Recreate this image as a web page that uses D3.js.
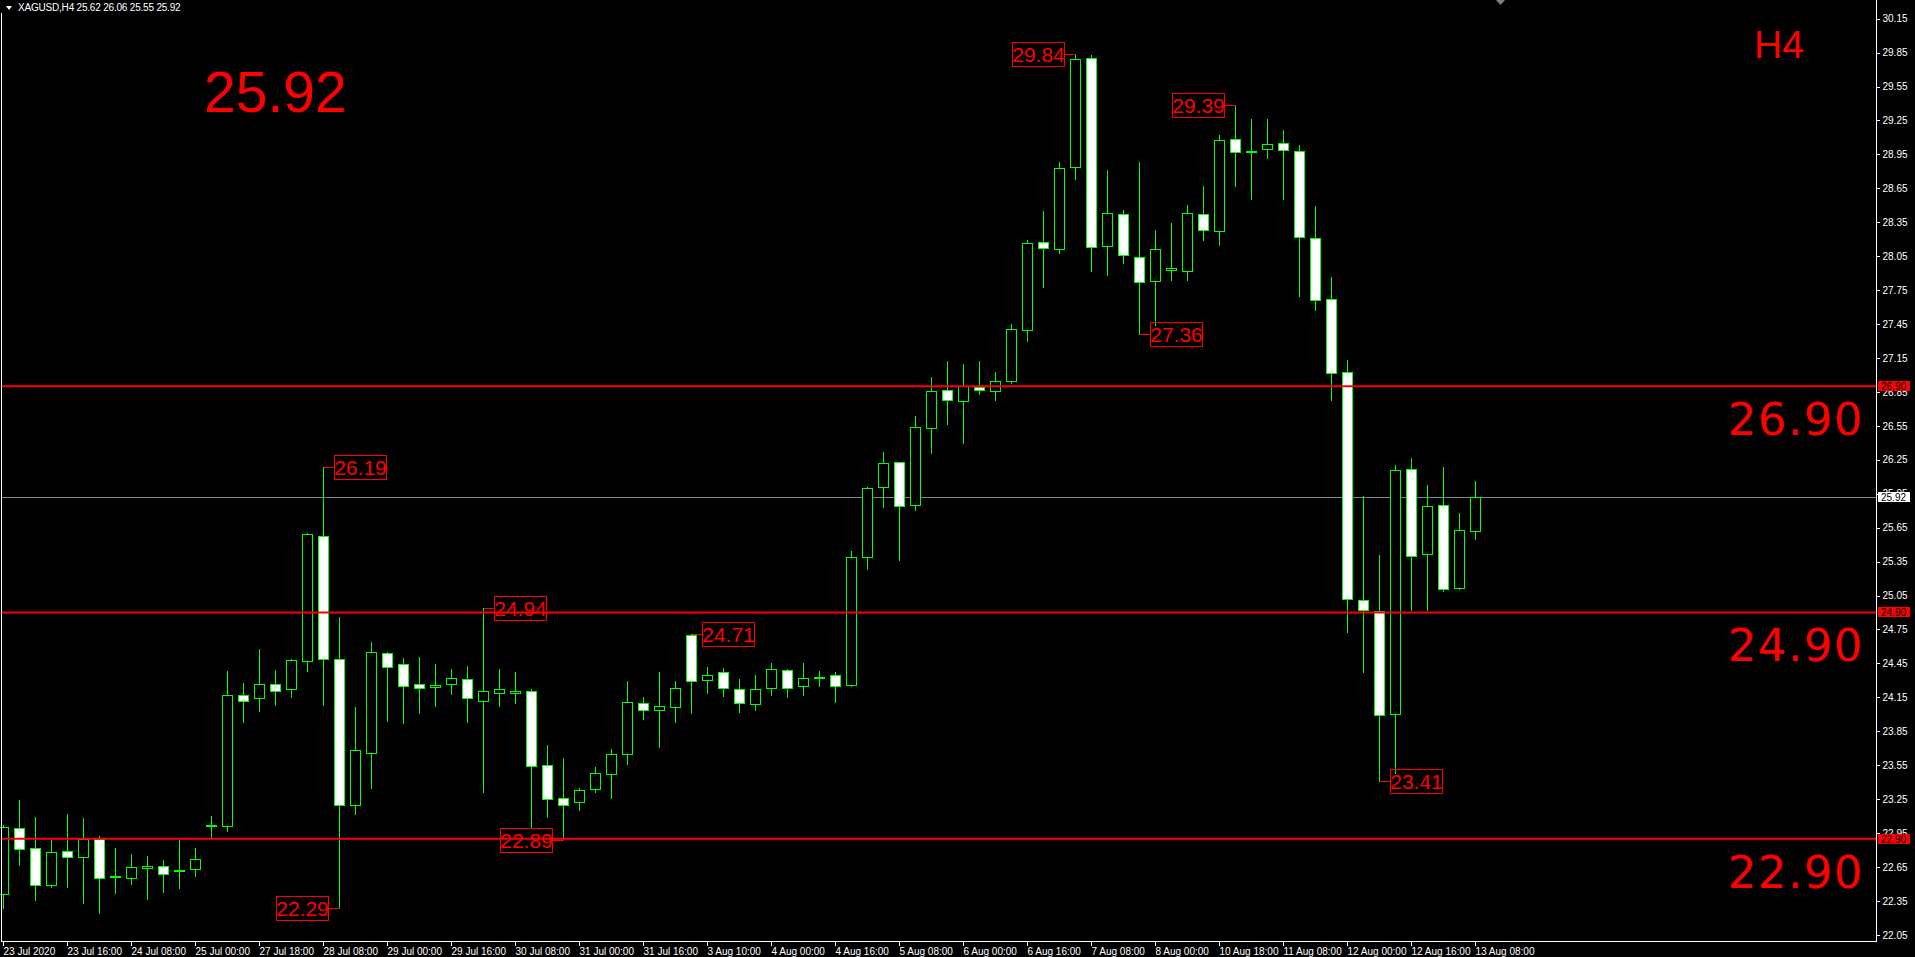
<!DOCTYPE html>
<html><head><meta charset="utf-8">
<script src="https://cdn.jsdelivr.net/npm/d3@7"></script>
<style>
html,body{margin:0;padding:0;background:#000;overflow:hidden}
svg{display:block}
</style></head><body>
<svg id="chart" width="1915" height="957"></svg>
<script>
// ---------------- DATA ----------------
const symbolName = "XAGUSD,H4";
const timeframe = "H4";
const opens  = [22.41,22.99,22.82,22.49,22.79,22.74,22.90,22.56,22.55,22.64,22.66,22.62,22.63,23.01,23.01,24.17,24.14,24.27,24.22,24.47,
                25.58,24.49,23.20,23.66,24.54,24.44,24.27,24.24,24.27,24.31,24.12,24.19,24.19,24.21,23.55,23.26,23.22,23.34,23.47,23.65,
                24.10,24.04,24.06,24.70,24.30,24.37,24.22,24.09,24.23,24.39,24.25,24.33,24.35,24.26,25.39,26.01,26.23,25.85,26.53,26.87,
                26.77,26.89,26.86,26.95,27.40,28.18,28.11,28.84,29.80,28.14,28.42,28.04,27.83,27.93,27.92,28.42,28.27,29.09,28.97,29.00,
                29.05,28.98,28.21,27.67,27.03,25.01,24.91,24.00,26.17,25.42,25.85,25.12,25.62];
const highs  = [23.02,23.24,23.09,22.89,23.12,23.08,22.92,22.82,22.76,22.75,22.71,22.89,22.82,23.10,24.38,24.28,24.58,24.39,24.49,25.60,
                26.19,24.86,24.06,24.64,24.55,24.50,24.51,24.44,24.40,24.43,24.94,24.40,24.37,24.22,23.73,23.61,23.35,23.53,23.69,24.29,
                24.15,24.37,24.29,24.71,24.42,24.41,24.31,24.35,24.45,24.40,24.45,24.38,24.37,25.44,26.01,26.32,26.23,26.64,26.98,27.12,
                27.10,27.12,27.03,27.45,28.19,28.45,28.88,29.84,29.83,28.81,28.46,28.88,28.28,28.34,28.50,28.67,29.12,29.39,29.26,29.26,
                29.17,29.03,28.49,27.87,27.13,25.93,25.41,26.20,26.27,26.03,26.19,25.78,26.06];
const lows   = [22.29,22.67,22.36,22.47,22.47,22.33,22.24,22.42,22.50,22.37,22.43,22.46,22.57,22.90,22.97,23.93,24.03,24.08,24.15,24.38,
                24.08,22.29,23.12,23.35,23.94,23.92,24.01,24.07,24.18,23.93,23.31,24.07,24.10,23.00,23.09,22.89,23.15,23.31,23.26,23.56,
                23.96,23.71,23.93,24.01,24.19,24.16,24.02,24.04,24.17,24.15,24.17,24.25,24.11,24.25,25.28,25.83,25.36,25.81,26.31,26.57,
                26.40,26.83,26.78,26.93,27.30,27.78,28.08,28.73,27.92,27.88,27.99,27.36,27.44,27.84,27.84,28.19,28.15,28.67,28.56,28.92,
                28.56,27.70,27.57,26.78,24.73,24.37,23.41,23.48,24.92,24.92,25.09,25.11,25.55];
const closes = [23.00,22.81,22.49,22.78,22.74,22.90,22.55,22.57,22.65,22.66,22.59,22.61,22.72,23.02,24.17,24.12,24.27,24.21,24.48,25.59,
                24.49,23.20,23.68,24.55,24.42,24.25,24.23,24.26,24.32,24.14,24.21,24.22,24.21,23.54,23.25,23.20,23.33,23.48,23.65,24.11,
                24.04,24.07,24.23,24.29,24.35,24.23,24.10,24.22,24.40,24.23,24.32,24.33,24.25,25.39,26.00,26.22,25.84,26.54,26.86,26.78,
                26.90,26.87,26.95,27.41,28.17,28.12,28.83,29.79,28.13,28.43,28.06,27.82,28.11,27.95,28.43,28.28,29.08,28.97,28.98,29.04,
                28.99,28.22,27.66,27.02,25.02,24.92,23.99,26.16,25.40,25.84,25.11,25.63,25.92];

const timeLabelBars = [0,4,8,12,16,20,24,28,32,36,40,44,48,52,56,60,64,68,72,76,80,84,88,92];
const timeLabels = ["23 Jul 2020","23 Jul 16:00","24 Jul 08:00","25 Jul 00:00","27 Jul 18:00","28 Jul 08:00",
                    "29 Jul 00:00","29 Jul 16:00","30 Jul 08:00","31 Jul 00:00","31 Jul 16:00","3 Aug 10:00",
                    "4 Aug 00:00","4 Aug 16:00","5 Aug 08:00","6 Aug 00:00","6 Aug 16:00","7 Aug 08:00",
                    "8 Aug 00:00","10 Aug 18:00","11 Aug 08:00","12 Aug 00:00","12 Aug 16:00","13 Aug 08:00"];
const priceTicks = [30.15,29.85,29.55,29.25,28.95,28.65,28.35,28.05,27.75,27.45,27.15,26.85,26.55,26.25,25.95,
                    25.65,25.35,25.05,24.75,24.45,24.15,23.85,23.55,23.25,22.95,22.65,22.35,22.05];
const levelPrices = [26.90, 24.90, 22.90];
const swingBars   = [20, 21, 30, 35, 43, 67, 77, 71, 86];
const swingPrices = [26.19, 22.29, 24.94, 22.89, 24.71, 29.84, 29.39, 27.36, 23.41];
const swingSides  = ["right","left","right","left","right","left","left","right","right"];

// ---------------- LAYOUT ----------------
const plotL = 1.5, plotR = 1876.5, plotB = 941.5;
const fmt = d3.format(".2f");
const lastIdx = closes.length - 1;
const bars = opens.map((o, i) => ({i, o, h: highs[i], l: lows[i], c: closes[i]}));

const x = d3.scaleLinear().domain([0, 92]).range([3, 1475]);
const y = d3.scaleLinear().domain([22.05, 30.15]).range([934.8, 18.7]);

const svg = d3.select("#chart");
svg.append("rect").attr("width", 1915).attr("height", 957).attr("fill", "#000");

const FONT_UI = "'Liberation Sans', Arial, sans-serif";
const FONT_WIDE = "'DejaVu Sans', Verdana, sans-serif";

// bid line (behind candles)
svg.append("line")
  .attr("x1", plotL).attr("x2", plotR)
  .attr("y1", Math.round(y(closes[lastIdx])) + 0.5).attr("y2", Math.round(y(closes[lastIdx])) + 0.5)
  .attr("stroke", "#778899").attr("stroke-width", 1);

// candles
const cg = svg.append("g").attr("shape-rendering", "crispEdges");
const px = i => Math.round(x(i)) + 0.5;
cg.selectAll("line.wick").data(bars).join("line")
  .attr("class", "wick")
  .attr("x1", d => px(d.i)).attr("x2", d => px(d.i))
  .attr("y1", d => Math.round(y(d.h))).attr("y2", d => Math.round(y(d.l)) + 1)
  .attr("stroke", "#00ff00").attr("stroke-width", 1);
cg.selectAll("rect.body").data(bars).join("rect")
  .attr("class", "body")
  .attr("x", d => px(d.i) - 5).attr("width", 10)
  .attr("y", d => Math.round(y(Math.max(d.o, d.c))) + 0.5)
  .attr("height", d => Math.max(1, Math.round(y(Math.min(d.o, d.c))) - Math.round(y(Math.max(d.o, d.c)))))
  .attr("fill", d => d.c >= d.o ? "#000" : "#fff")
  .attr("stroke", "#00ff00").attr("stroke-width", 1);

// level lines (on top)
svg.selectAll("line.level").data(levelPrices).join("line")
  .attr("class", "level")
  .attr("x1", plotL).attr("x2", plotR)
  .attr("y1", d => y(d)).attr("y2", d => y(d))
  .attr("stroke", "#ff0000").attr("stroke-width", 2);

// level big text
svg.selectAll("text.levelTxt").data(levelPrices).join("text")
  .attr("class", "levelTxt")
  .attr("x", 1864).attr("y", d => y(d) + 49)
  .attr("text-anchor", "end")
  .attr("font-family", FONT_WIDE).attr("font-size", 45).attr("letter-spacing", 1.5)
  .attr("fill", "#ff0000")
  .text(d => fmt(d));

// swing labels
const swings = swingBars.map((b, k) => ({b, p: swingPrices[k], side: swingSides[k]}));
const sg = svg.append("g");
sg.selectAll("path.conn").data(swings).join("path")
  .attr("class", "conn")
  .attr("d", d => {
    const cx = px(d.b), yy = Math.round(y(d.p)) + 0.5;
    const ex = d.side === "right" ? cx + 11 : cx - 11;
    return `M${cx},${yy}H${ex}`;
  })
  .attr("stroke", "#ff0000").attr("stroke-width", 1).attr("fill", "none")
  .attr("shape-rendering", "crispEdges");
sg.selectAll("rect.sbox").data(swings).join("rect")
  .attr("class", "sbox")
  .attr("x", d => d.side === "right" ? px(d.b) + 11 : px(d.b) - 11 - 52)
  .attr("y", d => Math.round(y(d.p)) - 12 + 0.5)
  .attr("width", 52).attr("height", 24)
  .attr("fill", "none").attr("stroke", "#ff0000").attr("stroke-width", 1)
  .attr("shape-rendering", "crispEdges");
sg.selectAll("text.stxt").data(swings).join("text")
  .attr("class", "stxt")
  .attr("x", d => (d.side === "right" ? px(d.b) + 11 : px(d.b) - 11 - 52) + 26)
  .attr("y", d => y(d.p) + 8)
  .attr("text-anchor", "middle")
  .attr("font-family", FONT_UI).attr("font-size", 21)
  .attr("fill", "#ff0000")
  .text(d => fmt(d.p));

// big last price and timeframe
svg.append("text").attr("x", 204).attr("y", 112)
  .attr("font-family", FONT_UI).attr("font-size", 57).attr("fill", "#ff0000")
  .text(fmt(closes[lastIdx]));
svg.append("text").attr("x", 1754).attr("y", 58)
  .attr("font-family", FONT_UI).attr("font-size", 39).attr("fill", "#ff0000")
  .text(timeframe);

// frame
const frame = svg.append("g").attr("stroke", "#fff").attr("stroke-width", 1).attr("shape-rendering", "crispEdges");
frame.append("line").attr("x1", plotL).attr("x2", plotL).attr("y1", 13).attr("y2", plotB);
frame.append("line").attr("x1", plotL).attr("x2", plotR).attr("y1", plotB).attr("y2", plotB);

// price axis
const yAxis = d3.axisRight(y).tickValues(priceTicks).tickFormat(fmt).tickSize(3).tickPadding(3);
const ya = svg.append("g").attr("transform", `translate(${plotR},0)`).call(yAxis);
ya.select(".domain").attr("stroke", "#fff").attr("d", `M0,0V${plotB}`);
ya.selectAll(".tick line").attr("stroke", "#fff");
ya.selectAll(".tick text").attr("fill", "#fff").attr("font-family", FONT_UI).attr("font-size", 10);
ya.attr("shape-rendering", "crispEdges");

// time axis
const xAxis = d3.axisBottom(x).tickValues(timeLabelBars)
  .tickFormat((d, k) => timeLabels[k]).tickSize(4).tickPadding(2);
const xa = svg.append("g").attr("transform", `translate(0,${plotB})`).call(xAxis);
xa.select(".domain").remove();
xa.selectAll(".tick line").attr("stroke", "#fff").attr("shape-rendering", "crispEdges");
xa.selectAll(".tick text").attr("fill", "#fff").attr("font-family", FONT_UI).attr("font-size", 10)
  .attr("text-anchor", "start").attr("x", 0).attr("dy", "0.71em");

// axis boxes for levels and last price
const ab = svg.append("g");
levelPrices.forEach(p => {
  ab.append("rect").attr("x", 1878).attr("y", Math.round(y(p)) - 5).attr("width", 32).attr("height", 10).attr("fill", "#ff0000");
  ab.append("text").attr("x", 1881).attr("y", Math.round(y(p)) + 4)
    .attr("font-family", FONT_UI).attr("font-size", 10).attr("fill", "#000").text(fmt(p));
});
ab.append("rect").attr("x", 1878).attr("y", Math.round(y(closes[lastIdx])) - 5).attr("width", 32).attr("height", 10).attr("fill", "#fff");
ab.append("text").attr("x", 1881).attr("y", Math.round(y(closes[lastIdx])) + 4)
  .attr("font-family", FONT_UI).attr("font-size", 10).attr("fill", "#000").text(fmt(closes[lastIdx]));

// header
svg.append("path").attr("d", "M6,6H12L9,10Z").attr("fill", "#fff");
svg.append("text").attr("x", 18).attr("y", 11)
  .attr("font-family", FONT_UI).attr("font-size", 10).attr("letter-spacing", -0.2).attr("fill", "#fff")
  .text(`${symbolName}  ${fmt(opens[lastIdx])} ${fmt(highs[lastIdx])} ${fmt(lows[lastIdx])} ${fmt(closes[lastIdx])}`);
// chart shift marker
svg.append("path").attr("d", "M1496,0H1505L1500.5,5Z").attr("fill", "#808080");
</script>
</body></html>
